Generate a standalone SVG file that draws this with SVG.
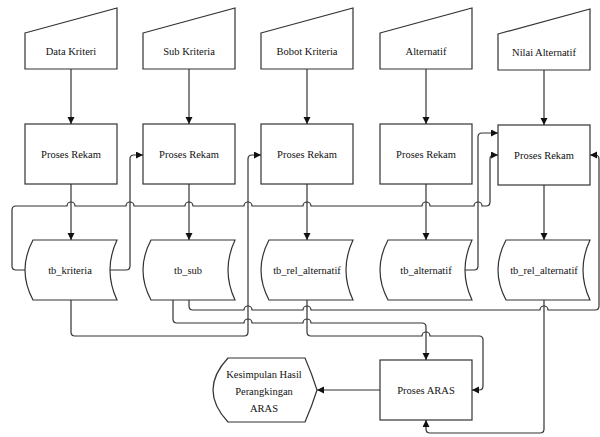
<svg xmlns="http://www.w3.org/2000/svg" width="600" height="437" viewBox="0 0 600 437" font-family="'Liberation Serif', 'Times New Roman', serif">
<style>
.s{fill:#fff;stroke:#333;stroke-width:1.2}
.c{fill:none;stroke:#333;stroke-width:1.2}
.a{marker-end:url(#ar)}
text{font-family:'Liberation Serif','Times New Roman',serif;font-size:10.5px;fill:#111;text-anchor:middle}
</style>
<defs>
<marker id="ar" markerUnits="userSpaceOnUse" markerWidth="8" markerHeight="8" refX="7" refY="3.5" orient="auto">
<path d="M0,0 L7,3.5 L0,7 Z" fill="#111"/>
</marker>
</defs>
<rect width="600" height="437" fill="#fff"/>

<g id="in1"><polygon class="s" points="25,33 117,8 117,69 25,69"/><text x="71" y="55">Data Kriteri</text></g>
<g id="in2"><polygon class="s" points="143,33 235,8 235,69 143,69"/><text x="189" y="55">Sub Kriteria</text></g>
<g id="in3"><polygon class="s" points="261,33 353,8 353,69 261,69"/><text x="307" y="55">Bobot Kriteria</text></g>
<g id="in4"><polygon class="s" points="380,33 472,8 472,69 380,69"/><text x="426" y="55">Alternatif</text></g>
<g id="in5"><polygon class="s" points="498,34 590,9 590,70 498,70"/><text x="544" y="56">Nilai Alternatif</text></g>

<g id="p1"><rect class="s" x="25" y="124" width="92" height="60"/><text x="71" y="158">Proses Rekam</text></g>
<g id="p2"><rect class="s" x="143" y="124" width="92" height="60"/><text x="189" y="158">Proses Rekam</text></g>
<g id="p3"><rect class="s" x="261" y="124" width="92" height="60"/><text x="307" y="158">Proses Rekam</text></g>
<g id="p4"><rect class="s" x="380" y="124" width="92" height="60"/><text x="426" y="158">Proses Rekam</text></g>
<g id="p5"><rect class="s" x="498" y="125" width="92" height="60"/><text x="544" y="159">Proses Rekam</text></g>

<g id="d1"><path class="s" d="M33,240 H117 Q103,270 117,300 H33 Q17,270 33,240 Z"/><text x="70" y="274">tb_kriteria</text></g>
<g id="d2"><path class="s" d="M151,240 H235 Q221,270 235,300 H151 Q135,270 151,240 Z"/><text x="188" y="274">tb_sub</text></g>
<g id="d3"><path class="s" d="M269,240 H353 Q339,270 353,300 H269 Q253,270 269,240 Z"/><text x="307" y="274">tb_rel_alternatif</text></g>
<g id="d4"><path class="s" d="M388,240 H472 Q458,270 472,300 H388 Q372,270 388,240 Z"/><text x="426" y="274">tb_alternatif</text></g>
<g id="d5"><path class="s" d="M506,240 H590 Q576,270 590,300 H506 Q490,270 506,240 Z"/><text x="544" y="274">tb_rel_alternatif</text></g>

<g id="aras"><rect class="s" x="380" y="360" width="92" height="60"/><text x="426" y="394">Proses ARAS</text></g>
<g id="out"><path class="s" d="M228,358 H305 Q312,374 317,390 Q312,406 305,422 H228 Q198,390 228,358 Z"/>
<text x="264" y="378">Kesimpulan Hasil</text><text x="264" y="395">Perangkingan</text><text x="264" y="412">ARAS</text></g>

<g id="connectors">
<path class="c a" d="M71,69 V124"/>
<path class="c a" d="M189,69 V124"/>
<path class="c a" d="M307,69 V124"/>
<path class="c a" d="M426,69 V124"/>
<path class="c a" d="M544,70 V125"/>
<path class="c a" d="M71,184 V240"/>
<path class="c a" d="M189,184 V240"/>
<path class="c a" d="M307,184 V240"/>
<path class="c a" d="M426,184 V240"/>
<path class="c a" d="M544,185 V240"/>
<path class="c a" d="M110,270 H126 Q130,270 130,266 V159 Q130,155 134,155 H143"/>
<path class="c a" d="M25,270 H16 Q12,270 12,266 V210 Q12,206 16,206 H67 A4,4 0 0 1 75,206 H126 A4,4 0 0 1 134,206 H185 A4,4 0 0 1 193,206 H244 A4,4 0 0 1 252,206 H303 A4,4 0 0 1 311,206 H422 A4,4 0 0 1 430,206 H474 A4,4 0 0 1 482,206 H486 Q490,206 490,202 V159 Q490,155 494,155 H498"/>
<path class="c a" d="M465,270 H474 Q478,270 478,266 V137 Q478,133 482,133 H498"/>
<path class="c a" d="M71,300 V332 Q71,336 75,336 H244 Q248,336 248,332 V159 Q248,155 252,155 H261"/>
<path class="c a" d="M189,300 V306 Q189,310 193,310 H244 A4,4 0 0 1 252,310 H303 A4,4 0 0 1 311,310 H540 A4,4 0 0 1 548,310 H595 Q599,310 599,306 V159 Q599,155 595,155 H590"/>
<path class="c a" d="M173,300 V319 Q173,323 177,323 H244 A4,4 0 0 1 252,323 H303 A4,4 0 0 1 311,323 H422 Q426,323 426,327 V360"/>
<path class="c a" d="M307,300 V332 Q307,336 311,336 H422 A4,4 0 0 1 430,336 H479 Q483,336 483,340 V386 Q483,390 479,390 H472"/>
<path class="c a" d="M544,300 V429 Q544,433 540,433 H430 Q426,433 426,429 V420"/>
<path class="c a" d="M380,390 H317"/>
</g>
</svg>
